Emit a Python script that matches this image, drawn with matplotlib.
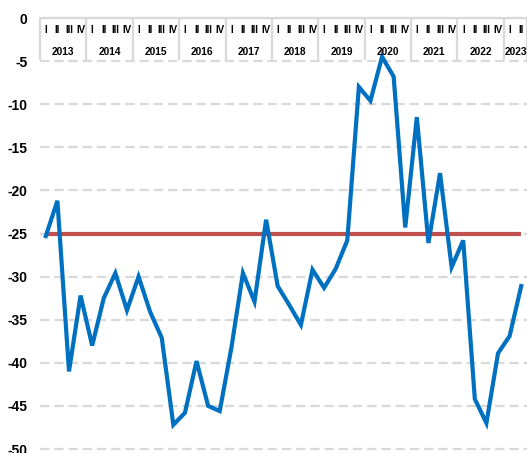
import matplotlib
matplotlib.use("Agg")
import matplotlib.pyplot as plt
import numpy as np

years = ["2013", "2014", "2015", "2016", "2017", "2018", "2019", "2020", "2021", "2022", "2023"]
quarters_per_year = [4, 4, 4, 4, 4, 4, 4, 4, 4, 4, 2]
quarter_names = ["I", "II", "III", "IV"]

values = [-25.3, -21.2, -41.0, -32.2,
          -38.0, -32.5, -29.6, -33.9,
          -30.0, -34.1, -37.1, -47.2,
          -45.8, -39.8, -45.0, -45.6,
          -38.3, -29.6, -32.9, -23.4,
          -31.1, -33.3, -35.6, -29.2,
          -31.3, -29.1, -25.8, -8.0,
          -9.6, -4.5, -6.8, -24.3,
          -11.5, -26.1, -18.0, -28.9,
          -25.8, -44.2, -47.0, -38.9,
          -36.9, -31.1]
threshold = [-25.0] * len(values)
yticks = [0, -5, -10, -15, -20, -25, -30, -35, -40, -45, -50]

plt.rcParams['font.family'] = ['Liberation Sans', 'DejaVu Sans']

W, H = 527, 453
fig = plt.figure(figsize=(W / 100, H / 100), dpi=100)
left_px, right_px, top_px, bot_px = 40, 527, 18, 449
ax = fig.add_axes([left_px / W, (H - bot_px) / H, (right_px - left_px) / W, (bot_px - top_px) / H])

n = len(values)
x = np.arange(n)
ax.set_xlim(-0.5, n - 0.5)
ax.set_ylim(-50, 0)

grid_c = "#d9d9d9"
for yt in yticks:
    if yt == 0:
        continue
    ax.axhline(yt, color=grid_c, lw=1.6, ls=(0, (4.2, 2.2)), zorder=1, clip_on=False)
ax.axhline(0, color=grid_c, lw=1.6, zorder=1, clip_on=False)

ax.plot(x, threshold, color="#C0504D", lw=3.0, zorder=3, solid_capstyle="butt")
ax.plot(x, values, color="#0070C0", lw=3.0, zorder=4, solid_joinstyle="miter")

# category axis at top: separators, quarter labels, year labels
pos = 0
bounds = [-0.5]
for yi, (yr, nq) in enumerate(zip(years, quarters_per_year)):
    for q in range(nq):
        ax.text(pos + q, -1.45, quarter_names[q], ha="center", va="center",
                fontsize=7, fontweight="bold", zorder=5)
    ax.text(pos + (nq - 1) / 2, -3.95, yr, ha="center", va="center",
            fontsize=7.3, fontweight="bold", zorder=5)
    pos += nq
    bounds.append(pos - 0.5)
ax.vlines(bounds, -4.85, 0, color=grid_c, lw=1.6, zorder=2, clip_on=False)

ax.set_yticks(yticks)
ax.set_yticklabels([str(v) for v in yticks], fontsize=10, fontweight="bold")
ax.tick_params(axis="y", length=0, pad=9)
ax.set_xticks([])
for s in ax.spines.values():
    s.set_visible(False)

fig.savefig("out.png", dpi=100)
